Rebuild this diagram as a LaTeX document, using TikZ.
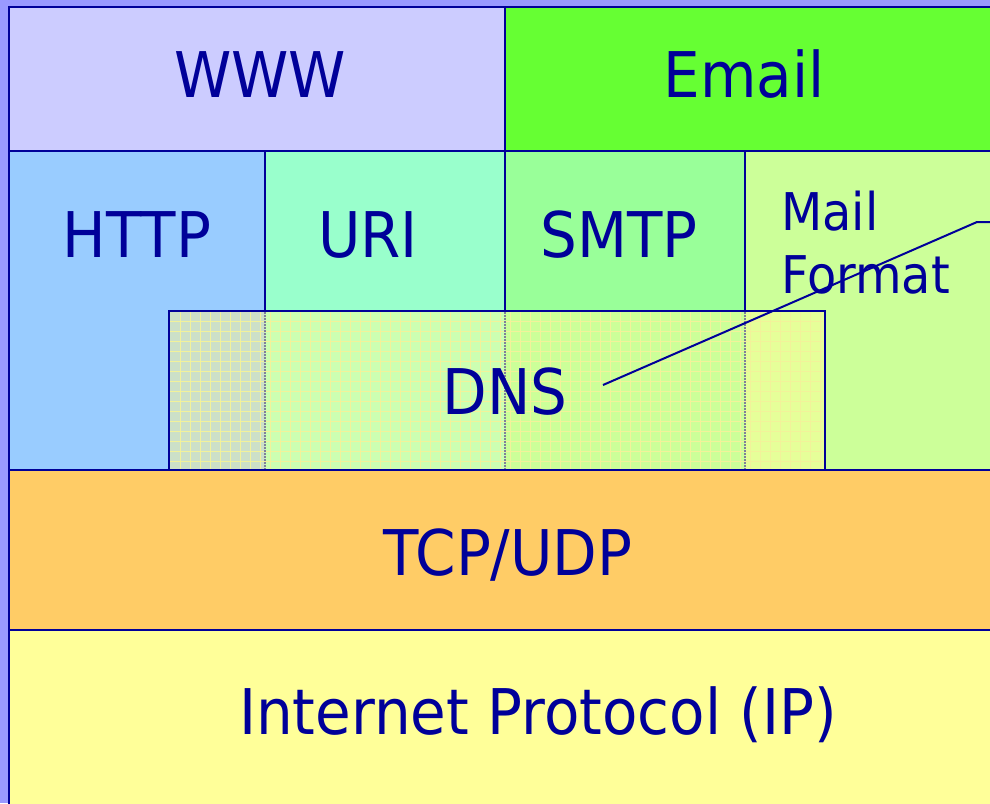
\documentclass[tikz,border=0pt]{standalone}
\usepackage{fontspec}
\setmainfont{DejaVu Sans}[FakeStretch=0.92]
\definecolor{bgc}{HTML}{9999FF}
\definecolor{linec}{HTML}{000099}
\definecolor{wwwc}{HTML}{CCCCFF}
\definecolor{emailc}{HTML}{66FF33}
\definecolor{httpc}{HTML}{99CCFF}
\definecolor{uric}{HTML}{99FFCC}
\definecolor{smtpc}{HTML}{99FF99}
\definecolor{mailc}{HTML}{CCFF99}
\definecolor{tcpc}{HTML}{FFCC66}
\definecolor{ipc}{HTML}{FFFF99}
\definecolor{dnsa}{HTML}{CCE0C8}
\definecolor{dnsb}{HTML}{CCFFB2}
\definecolor{dnsc}{HTML}{CCFF99}
\definecolor{dnsd}{HTML}{E6FF99}
\definecolor{gridc}{HTML}{F2F29A}
\definecolor{undc}{HTML}{808099}
\tikzset{
  box/.style={draw=linec, line width=2.5pt},
  lbl/.style={text=linec, font=\fontsize{63}{63}\selectfont, inner sep=0pt, anchor=base},
  small/.style={text=linec, font=\fontsize{52}{63}\selectfont, inner sep=0pt, anchor=base west},
}
\begin{document}
\begin{tikzpicture}[x=1pt,y=-1pt]
\useasboundingbox (0,0) rectangle (990,803);
\clip (0,0) rectangle (990,803);
\fill[bgc] (0,0) rectangle (990,803);
% boxes
\path[box, fill=wwwc] (9,7) rectangle (505,151);
\path[box, fill=emailc] (505,7) rectangle (1000,151);
\path[box, fill=httpc] (9,151) rectangle (265,470);
\path[box, fill=uric] (265,151) rectangle (505,311);
\path[box, fill=smtpc] (505,151) rectangle (745,311);
\path[box, fill=mailc] (745,151) rectangle (1000,470);
\path[box, fill=tcpc] (9,470) rectangle (1000,630);
\path[box, fill=ipc] (9,630) rectangle (1000,820);
% DNS overlay (see-through look)
\fill[dnsa] (169,311) rectangle (265,470);
\fill[dnsb] (265,311) rectangle (505,470);
\fill[dnsc] (505,311) rectangle (745,470);
\fill[dnsd] (745,311) rectangle (825,470);
\foreach \gx in {180,190,...,820} \draw[gridc, line width=1pt] (\gx,312) -- (\gx,469);
\foreach \gy in {321,331,...,465} \draw[gridc, line width=1pt] (170,\gy) -- (824,\gy);
\foreach \ux in {265,505,745} \draw[undc, line width=2pt, dash pattern=on 2pt off 1pt] (\ux,312) -- (\ux,469);
\draw[box] (169,311) rectangle (825,470);
% labels
\node[lbl] (www) at (260,97) {WWW};
\node[lbl] (email) at (744,97) {Email};
\node[lbl] (http) at (137,257) {HTTP};
\node[lbl] (uri) at (368,257) {URI};
\node[lbl] (smtp) at (619,257) {SMTP};
\node[small] (mail) at (781,230) {Mail};
\node[small] (format) at (781,293) {Format};
\node[lbl] (dns) at (505,414) {DNS};
\node[lbl] (tcp) at (508,575) {TCP/UDP};
\node[lbl] (ip) at (538,734) {Internet Protocol (IP)};
% callout line
\coordinate (c0) at (603,385);
\coordinate (c1) at (977,222);
\coordinate (c2) at (995,222);
\draw[linec, line width=2pt] (c0) -- (c1) -- (c2);
\end{tikzpicture}
\end{document}
